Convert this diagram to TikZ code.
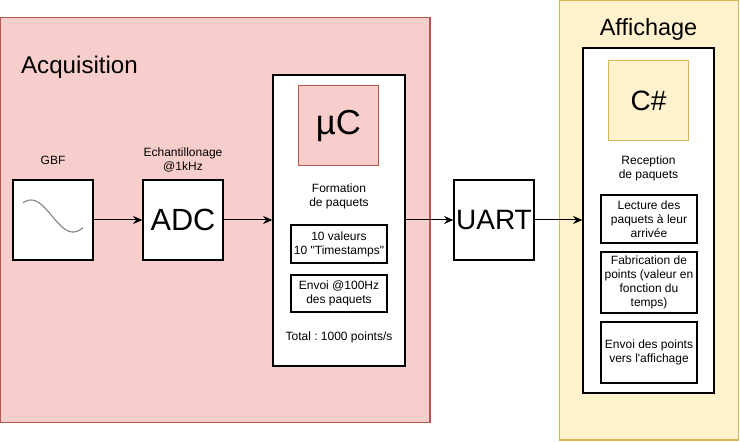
\documentclass[tikz,border=0pt]{standalone}
\usepackage{fontspec}
\setmainfont{Liberation Sans}
\usetikzlibrary{arrows.meta}
\definecolor{acqfill}{HTML}{F8CECC}
\definecolor{acqline}{HTML}{B85450}
\definecolor{afffill}{HTML}{FFF2CC}
\definecolor{affline}{HTML}{D6B656}
\def\px{0.75pt}
\frenchspacing
\tikzset{
	zone/.style={draw, line width=1pt, inner sep=0pt},
	bloc/.style={draw, fill=white, line width=0.9pt, inner sep=0pt, minimum width=80*\px, minimum height=80*\px, font=\fontsize{23}{27}\selectfont},
	souszone/.style={draw, fill=white, line width=0.9pt, inner sep=0pt},
	sousbloc/.style={draw, fill=white, line width=0.9pt, inner sep=0pt, minimum width=96*\px, align=center, font=\fontsize{9}{10.5}\selectfont},
	txt/.style={align=center, inner sep=0pt, font=\fontsize{9}{10.5}\selectfont},
	titre/.style={inner sep=0pt, font=\fontsize{17.6}{21}\selectfont},
	fleche/.style={-{Stealth[length=7pt,width=6pt]}, line width=0.75pt},
}
\begin{document}
\begin{tikzpicture}[x=0.75pt, y=-0.75pt]
	\useasboundingbox (0,0) rectangle (740,442);
	% zones
	\node[zone, fill=acqfill, draw=acqline, minimum width=430*\px, minimum height=405*\px] (acq) at (215,220) {};
	\node[zone, fill=afffill, draw=affline, minimum width=179*\px, minimum height=439.5*\px] (aff) at (649,220.25) {};
	\node[titre, font=\fontsize{18.1}{21}\selectfont] (acqtitre) at (79.5,67) {Acquisition};
	\node[titre] (afftitre) at (648.5,29) {Affichage};
	% acquisition
	\node[bloc] (gbf) at (53,220) {};
	\draw[gray, line width=0.8pt] plot[domain=23:83, samples=40, smooth] (\x, {216-16*cos(4.2857*(\x-31))});
	\node[txt] (gbftxt) at (53,160) {GBF};
	\node[bloc] (adc) at (183,220) {ADC};
	\node[txt] (adctxt) at (183,160) {Echantillonage\\@1kHz};
	% microcontroleur
	\node[souszone, minimum width=132*\px, minimum height=291*\px] (uc) at (339,220.5) {};
	\node[bloc, fill=acqfill, draw=acqline, font=\fontsize{26}{30}\selectfont] (ucnom) at (338.5,125.5) {µC};
	\node[txt] (uctxt) at (339,196) {Formation\\de paquets};
	\node[sousbloc, minimum height=38*\px] (valeurs) at (339,244) {10 valeurs\\10 \textquotedbl Timestamps\textquotedbl};
	\node[sousbloc, minimum height=37*\px] (envoi) at (339,293.5) {Envoi @100Hz\\des paquets};
	\node[txt] (total) at (339,337) {Total : 1000 points/s};
	% uart
	\node[bloc, font=\fontsize{21}{25}\selectfont] (uart) at (494,220) {UART};
	% affichage
	\node[souszone, minimum width=131*\px, minimum height=345*\px] (pc) at (648.5,220.5) {};
	\node[bloc, fill=afffill, draw=affline, font=\fontsize{21}{25}\selectfont] (pcnom) at (648.5,100.5) {C\#};
	\node[txt] (pctxt) at (648.5,168) {Reception\\de paquets};
	\node[sousbloc, minimum height=48*\px] (lecture) at (649,219) {Lecture des\\paquets à leur\\arrivée};
	\node[sousbloc, minimum height=61*\px] (fabric) at (649,282.5) {Fabrication de\\points (valeur en\\fonction du\\temps)};
	\node[sousbloc, minimum height=61*\px] (points) at (649,352.5) {Envoi des points\\vers l\textquotesingle affichage};
	% fleches
	\draw[fleche] (gbf) -- (adc);
	\draw[fleche] (adc) -- (uc.west |- adc);
	\draw[fleche] (uc.east |- uart) -- (uart);
	\draw[fleche] (uart) -- (pc.west |- uart);
\end{tikzpicture}
\end{document}
